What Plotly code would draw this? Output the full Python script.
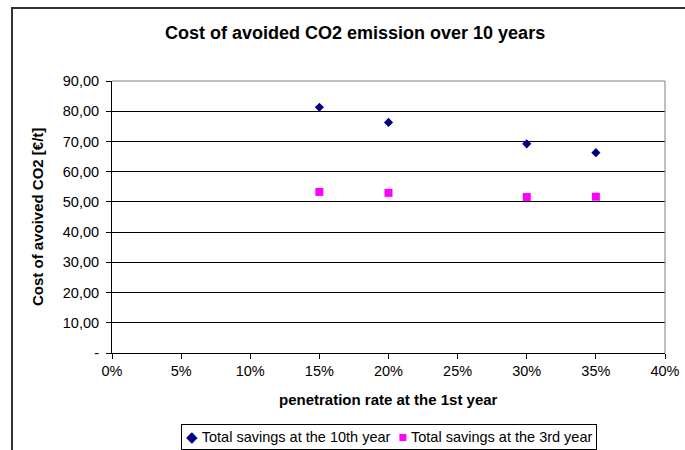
import plotly.graph_objects as go

# Penetration rate at the 1st year (fraction)
penetration = [0.15, 0.20, 0.30, 0.35]

# Cost of avoided CO2 [€/t]
savings_10th_year = [81.3, 76.3, 69.2, 66.3]
savings_3rd_year = [53.3, 53.0, 51.6, 51.7]

series_names = ["Total savings at the 10th year", "Total savings at the 3rd year"]
series_colors = ["#000080", "#FF00FF"]

y_tick_vals = [0, 10, 20, 30, 40, 50, 60, 70, 80, 90]
y_tick_text = ["-", "10,00", "20,00", "30,00", "40,00", "50,00",
               "60,00", "70,00", "80,00", "90,00"]
x_tick_vals = [0, 0.05, 0.10, 0.15, 0.20, 0.25, 0.30, 0.35, 0.40]
x_tick_text = ["0%", "5%", "10%", "15%", "20%", "25%", "30%", "35%", "40%"]

W, H = 685, 450
L, R, T, B = 112, 20, 81, 97
pw, ph = W - L - R, H - T - B

def px(x):
    return (x - L) / pw

def py(y):
    return (H - B - y) / ph

FONT = "Liberation Sans, Arial, sans-serif"

fig = go.Figure()
fig.add_trace(go.Scatter(
    x=penetration, y=savings_10th_year, mode="markers",
    name=series_names[0],
    marker=dict(symbol="diamond", size=7, color=series_colors[0],
                line=dict(width=0)),
    cliponaxis=False,
))
fig.add_trace(go.Scatter(
    x=penetration, y=savings_3rd_year, mode="markers",
    name=series_names[1],
    marker=dict(symbol="square", size=8, color=series_colors[1],
                line=dict(width=0)),
    cliponaxis=False,
))

# compact boxed legend below the axis title
legend_text = (
    f"<span style='color:{series_colors[0]}'>◆</span> {series_names[0]}  "
    f"<span style='color:{series_colors[1]}'>■</span> {series_names[1]}"
)

fig.update_layout(
    width=W, height=H,
    margin=dict(l=L, r=R, t=T, b=B, pad=0, autoexpand=False),
    paper_bgcolor="white", plot_bgcolor="white",
    font=dict(family=FONT, size=14, color="black"),
    showlegend=False,
    xaxis=dict(
        range=[0, 0.4], tickvals=x_tick_vals, ticktext=x_tick_text,
        showgrid=False, zeroline=False,
        showline=True, linecolor="black", linewidth=1,
        ticks="outside", ticklen=5, tickcolor="black",
        tickfont=dict(size=14.5),
    ),
    yaxis=dict(
        range=[0, 90], tickvals=y_tick_vals, ticktext=y_tick_text,
        showgrid=True, gridcolor="black", gridwidth=1, zeroline=False,
        showline=True, linecolor="black", linewidth=1,
        ticks="outside", ticklen=5, tickcolor="black",
        tickfont=dict(size=14.5), ticklabelstandoff=4,
    ),
    shapes=[
        # outer chart frame
        dict(type="rect", xref="paper", yref="paper",
             x0=px(12), x1=px(692), y0=py(460), y1=py(8),
             line=dict(color="#333333", width=2), layer="below"),
        # plot area border (top and right)
        dict(type="line", xref="paper", yref="paper",
             x0=0, x1=1, y0=1, y1=1,
             line=dict(color="#808080", width=1), layer="above"),
        dict(type="line", xref="paper", yref="paper",
             x0=1, x1=1, y0=0, y1=1,
             line=dict(color="#808080", width=1), layer="above"),
    ],
    annotations=[
        dict(text="<b>Cost of avoided CO2 emission over 10 years</b>",
             xref="paper", yref="paper", x=px(355), y=py(33),
             xanchor="center", yanchor="middle", showarrow=False,
             font=dict(size=18)),
        dict(text="<b>penetration rate at the 1st year</b>",
             xref="paper", yref="paper", x=0.5, y=py(399),
             xanchor="center", yanchor="middle", showarrow=False,
             font=dict(size=15)),
        dict(text="<b>Cost of avoived CO2 [€/t]</b>",
             xref="paper", yref="paper", x=px(37), y=0.5,
             xanchor="center", yanchor="middle", showarrow=False,
             textangle=-90, font=dict(size=15)),
        dict(text=legend_text,
             xref="paper", yref="paper", x=px(389), y=py(437),
             xanchor="center", yanchor="middle", showarrow=False,
             bordercolor="black", borderwidth=1, borderpad=4,
             bgcolor="white", font=dict(size=14.5)),
    ],
)

fig.write_html("out.html")
